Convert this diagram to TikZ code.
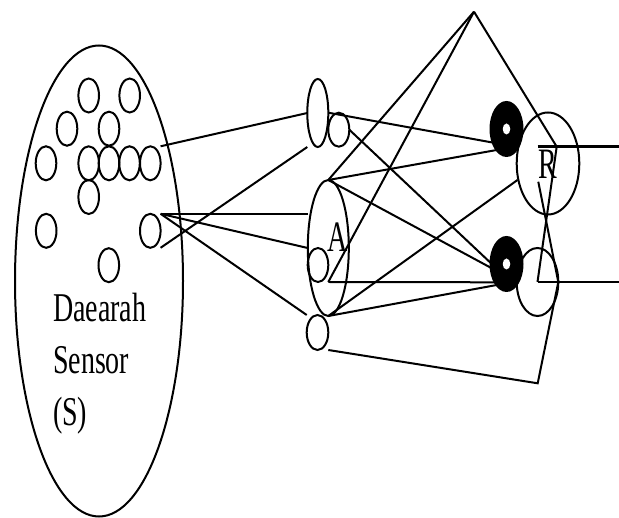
\documentclass[tikz,border=0pt]{standalone}
\usepackage{graphicx}
\usepackage{fontspec}
\setmainfont{Liberation Serif}
\usetikzlibrary{shapes.geometric}
\begin{document}
\begin{tikzpicture}[x=1pt,y=-1pt,line width=2pt,
  oval/.style={draw,ellipse,inner sep=0pt,outer sep=0pt},
  cell/.style={oval,minimum width=20.6pt,minimum height=34pt},
  wire/.style={line width=2pt},
  outwire/.style={line width=2.8pt},
  dark/.style={ellipse,fill=black,inner sep=0pt,outer sep=0pt,minimum width=34pt,minimum height=56pt},
  hole/.style={ellipse,fill=white,inner sep=0pt,outer sep=0pt,minimum width=7.5pt,minimum height=11pt},
  lbl/.style={font=\fontsize{28}{30}\selectfont,inner sep=0pt}]
\useasboundingbox (0,0) rectangle (619,518);
% sensor area
\node[oval,minimum width=168pt,minimum height=471pt] (S) at (99,281) {};
\foreach \n/\x/\y in {1/88.7/95.5, 2/129.7/95.5, 3/67/128.7, 4/109/128.7,
  5/46/163.3, 6/88.7/163.3, 7/109/163.3, 8/129.5/163.3, 9/150.3/163.3,
  10/88.7/197, 11/46.2/230.8, 12/150.3/230.8, 13/108.8/265.2}
  \node[cell] (c\n) at (\x,\y) {};
% association units
\node[oval,minimum width=21pt,minimum height=68pt] (T) at (317.8,113) {};
\node[cell,minimum width=21pt] (U) at (338.8,129.7) {};
\node[oval,minimum width=41pt,minimum height=136pt] (A) at (328.3,248) {};
\node[cell] (V) at (318,265) {};
\node[cell,minimum width=21.6pt,minimum height=35pt] (W) at (317.5,332.5) {};
% response units
\node[oval,minimum width=62.6pt,minimum height=102pt] (R) at (548,163.5) {};
\node[oval,minimum width=41.6pt,minimum height=68pt] (Q) at (537.5,282) {};
% connector points
\coordinate (apex) at (474,11.7);
\coordinate (f1a) at (496.7,143.3);
\coordinate (f1b) at (496.7,150);
\coordinate (f2a) at (495,267);
\coordinate (f2b) at (495,270);
\coordinate (f2c) at (496.7,282.3);
\coordinate (f2d) at (496.7,285);
\coordinate (r0) at (517.5,180);
\coordinate (r1) at (538.3,181.7);
\coordinate (r2) at (556.7,146.7);
\coordinate (r3) at (537.7,146.7);
\coordinate (b1) at (537.7,383.3);
\coordinate (out1) at (619,146.7);
\coordinate (out2) at (619,282);
% connectors
\draw[wire] (c9.north -| c9.east) -- (T.west);
\draw[wire] (c12.south -| c12.east) -- (T.south -| T.west);
\draw[wire] (c12.north -| c12.east) -- (c12.north -| A.west);
\draw[wire] (c12.north -| c12.east) -- (V.north -| V.west);
\draw[wire] (c12.north -| c12.east) -- (W.north -| W.west);
\draw[wire] (U.north -| U.west) -- (f1a);
\draw[wire] (U.east) -- (f2a);
\draw[wire] (A.north) -- (apex);
\draw[wire] (A.north) -- (f1b);
\draw[wire] (A.north) -- (f2b);
\draw[wire] (V.south -| V.east) -- (apex);
\draw[wire] (V.south -| V.east) -- (f2c);
\draw[wire] (A.south) -- (r0);
\draw[wire] (A.south) -- (f2d);
\draw[wire] (W.south -| W.east) -- (b1) -- (Q.east) -- (r1);
\draw[wire] (apex) -- (r2) -- (Q.center);
\draw[outwire] (Q.center) -- (out2);
\draw[outwire] (r3) -- (out1);
% filled units
\node[dark] (F1) at (506.5,129) {};
\node[hole] (F1h) at (F1) {};
\node[dark] (F2) at (506.5,264) {};
\node[hole] (F2h) at (F2) {};
% labels
\node[lbl,anchor=base west] (t1) at (52,322) {\scalebox{1}[1.46]{Daearah}};
\node[lbl,anchor=base west] (t2) at (52,374) {\scalebox{1}[1.46]{Sensor}};
\node[lbl,anchor=base west] (t3) at (52,426) {\scalebox{1}[1.46]{(S)}};
\node[lbl,anchor=base] (Al) at (337.5,251.7) {\scalebox{1}[1.55]{A}};
\node[lbl,anchor=base] (Rl) at (548,178.3) {\scalebox{1}[1.55]{R}};
\end{tikzpicture}
\end{document}
